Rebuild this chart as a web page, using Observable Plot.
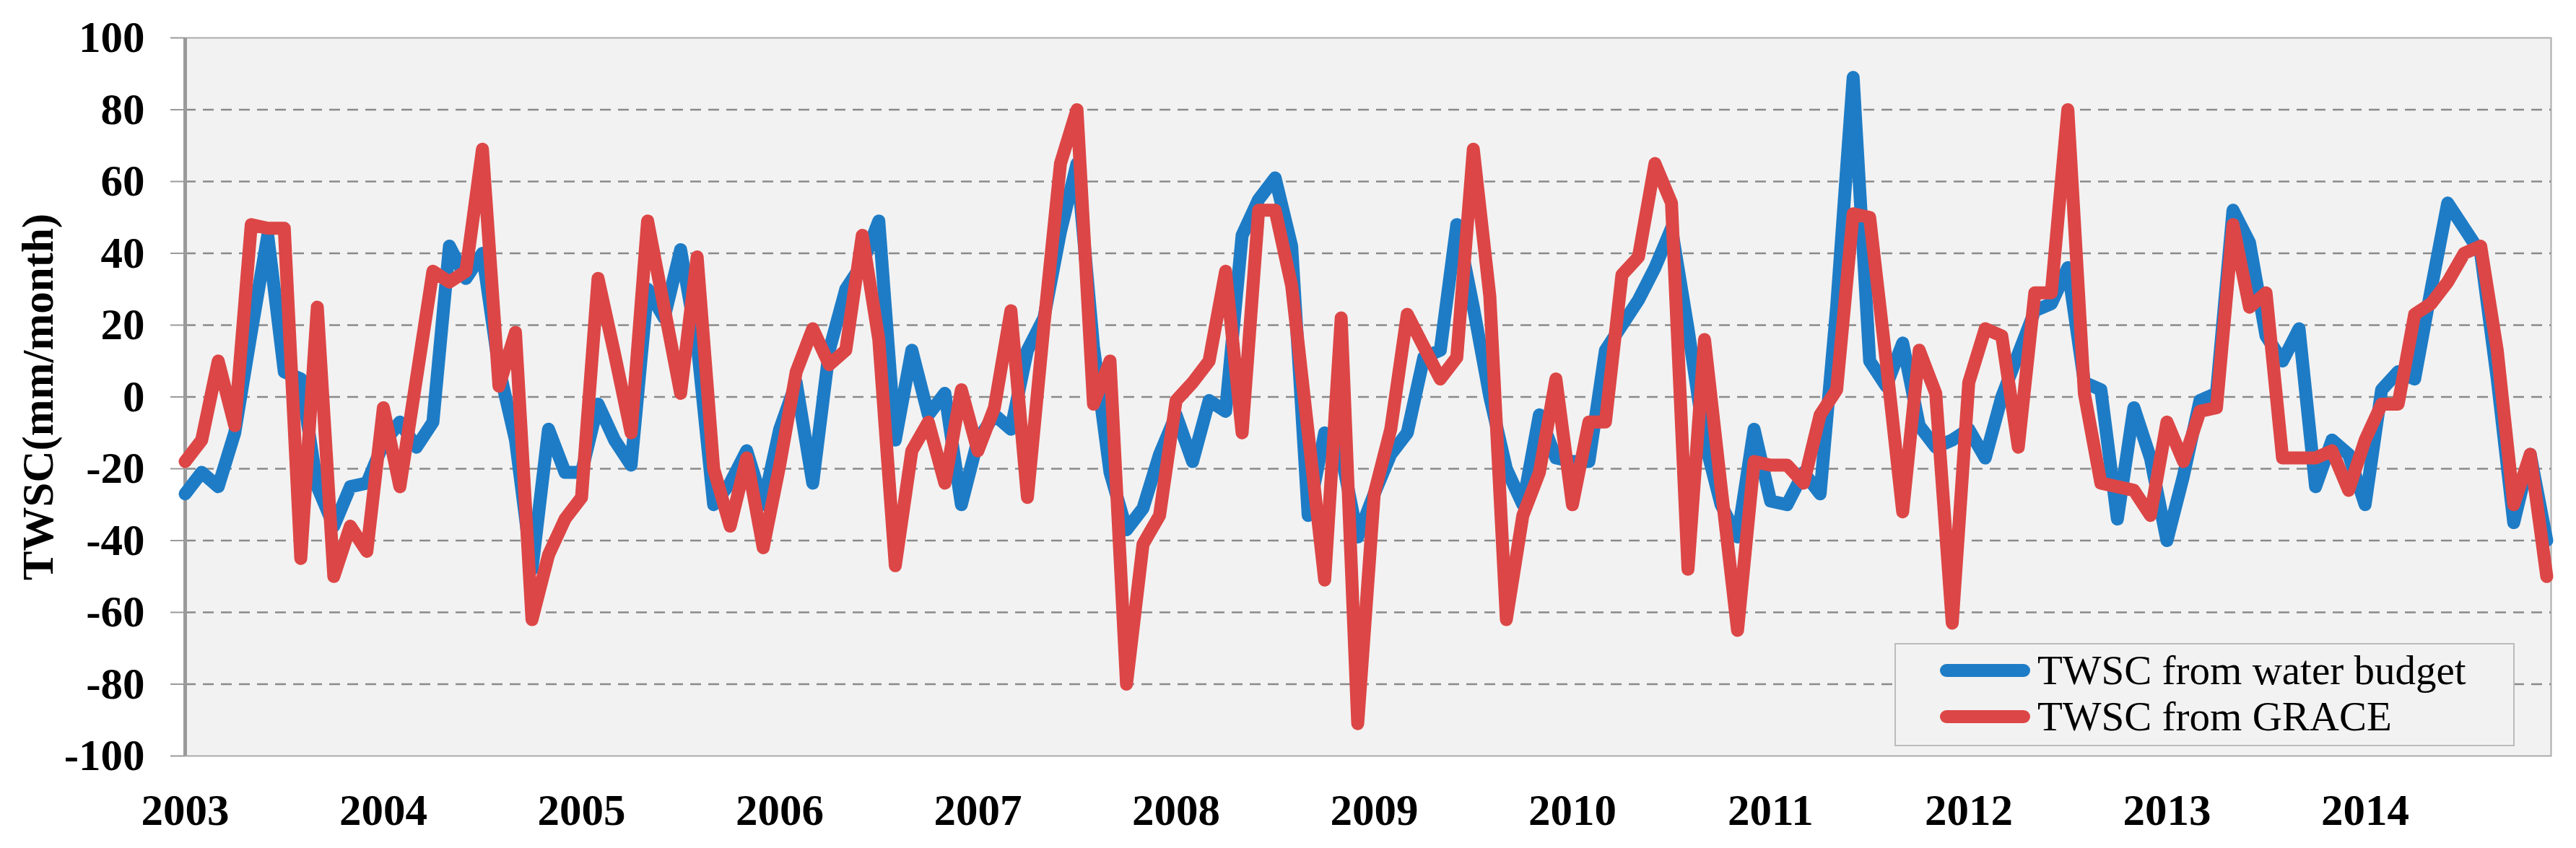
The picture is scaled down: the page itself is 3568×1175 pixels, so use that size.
<!DOCTYPE html>
<html>
<head>
<meta charset="utf-8">
<script src="https://cdn.jsdelivr.net/npm/d3@7"></script>
<script src="https://cdn.jsdelivr.net/npm/@observablehq/plot@0.6"></script>
<style>
  html, body { margin: 0; padding: 0; background: #ffffff; overflow: hidden; }
  #chart { position: relative; width: 3568px; height: 1175px; }
</style>
</head>
<body>
<div id="chart"></div>
<script>
// ---- data (monthly, Jan 2003 – Dec 2014) ----
const yearLabels = ["2003","2004","2005","2006","2007","2008","2009","2010","2011","2012","2013","2014"];
const yTicks = [-100, -80, -60, -40, -20, 0, 20, 40, 60, 80, 100];
const seriesNames = ["TWSC from water budget", "TWSC from GRACE"];
const seriesColors = ["#1e7cc6", "#dd4646"];
const yTitle = "TWSC(mm/month)";

// TWSC from water budget (blue)
const water = [
  -27, -21, -25, -10, 18, 45, 7, 5, -25, -36, -25, -24,   // 2003
  -13, -7, -14, -7, 42, 33, 40, 8, -12, -48, -9, -21,     // 2004
  -21, -2, -12, -19, 30, 22, 41, 15, -30, -24, -15, -30,  // 2005
  -9, 4, -24, 13, 30, 37, 49, -12, 13, -5, 1, -30,        // 2006
  -12, -5, -9, 13, 22, 46, 65, 14, -21, -37, -31, -16,    // 2007
  -5, -18, -1, -4, 45, 55, 61, 42, -33, -10, -16, -39,    // 2008
  -27, -16, -10, 11, 13, 48, 25, 0, -20, -30, -5, -17,    // 2009
  -18, -18, 13, 20, 27, 36, 47, 19, -12, -30, -39, -9,    // 2010
  -29, -30, -21, -27, 25, 89, 10, 3, 15, -8, -14, -12,    // 2011
  -9, -17, 0, 12, 24, 26, 36, 4, 2, -34, -3, -17,         // 2012
  -40, -22, -1, 1, 52, 43, 17, 10, 19, -25, -12, -16,     // 2013
  -30, 2, 7, 5, 30, 54, 47, 40, 5, -35, -16, -40          // 2014
];

// TWSC from GRACE (red)
const grace = [
  -18, -12, 10, -8, 48, 47, 47, -45, 25, -50, -36, -43,   // 2003
  -3, -25, 5, 35, 32, 35, 69, 3, 18, -62, -44, -34,       // 2004
  -28, 33, 12, -10, 49, 25, 1, 39, -20, -36, -17, -42,    // 2005
  -19, 7, 19, 9, 13, 45, 16, -47, -15, -7, -24, 2,        // 2006
  -15, -3, 24, -28, 20, 65, 80, -2, 10, -80, -41, -33,    // 2007
  -1, 4, 10, 35, -10, 52, 52, 31, -10, -51, 22, -91,      // 2008
  -27, -9, 23, 14, 5, 11, 69, 28, -62, -33, -21, 5,       // 2009
  -30, -7, -7, 34, 39, 65, 54, -48, 16, -25, -65, -18,    // 2010
  -19, -19, -24, -5, 2, 51, 50, 10, -32, 13, 1, -63,      // 2011
  4, 19, 17, -14, 29, 29, 80, 1, -24, -25, -26, -33,      // 2012
  -7, -18, -4, -3, 48, 25, 29, -17, -17, -17, -15, -26,   // 2013
  -12, -2, -2, 23, 26, 32, 40, 42, 13, -30, -16, -50      // 2014
];

// ---- table for the library ----
const rows = water.map((v, i) => ({ month: i, water: v, grace: grace[i] }));
const yearTicks = yearLabels.map((_, j) => j * 12);

const W = 3568, H = 1175;
const fontFam = "'Liberation Serif', 'Times New Roman', serif";

const plot = Plot.plot({
  width: W,
  height: H,
  marginLeft: 256,
  marginRight: 35,
  marginTop: 52,
  marginBottom: 128,
  style: {
    background: "#ffffff",
    fontFamily: fontFam,
    fontSize: "61px",
    fontWeight: "bold",
    color: "#000000",
    overflow: "visible"
  },
  x: { domain: [0, rows.length - 1], insetRight: 6 },
  y: { domain: [yTicks[0], yTicks[yTicks.length - 1]] },
  marks: [
    Plot.frame({ fill: "#f2f2f2", stroke: "#ababab", strokeWidth: 2 }),
    Plot.ruleY(yTicks.filter(d => d > yTicks[0] && d < yTicks[yTicks.length - 1]), {
      stroke: "#8a8a8a", strokeWidth: 2.5, strokeDasharray: "15,10"
    }),
    Plot.axisY({
      ticks: yTicks, tickSize: 20, tickPadding: 36,
      tickFormat: d => String(d), stroke: "#9a9a9a", strokeWidth: 2,
      fill: "#000000", label: null
    }),
    Plot.axisX({
      ticks: yearTicks, tickSize: 0, tickPadding: 52,
      tickFormat: i => yearLabels[i / 12], fill: "#000000", label: null
    }),
    Plot.ruleX([0], { stroke: "#9a9a9a", strokeWidth: 5 }),
    Plot.lineY(rows, {
      x: "month", y: "water", stroke: seriesColors[0], strokeWidth: 18,
      strokeLinejoin: "round", strokeLinecap: "round"
    }),
    Plot.lineY(rows, {
      x: "month", y: "grace", stroke: seriesColors[1], strokeWidth: 18,
      strokeLinejoin: "round", strokeLinecap: "round"
    })
  ]
});

document.getElementById("chart").appendChild(plot);

// ---- y-axis title ----
const svg = d3.select(plot);
svg.append("text")
  .attr("transform", "translate(73,550) rotate(-90)")
  .attr("text-anchor", "middle")
  .attr("font-family", fontFam)
  .attr("font-size", 61)
  .attr("font-weight", "bold")
  .attr("fill", "#000")
  .text(yTitle);

// ---- legend (inside plot, lower right) ----
const lg = svg.append("g").attr("text-anchor", "start");
lg.append("rect")
  .attr("x", 2625).attr("y", 892)
  .attr("width", 857).attr("height", 141)
  .attr("fill", "#f2f2f2").attr("stroke", "#bcbcbc").attr("stroke-width", 2);
const legendRows = [
  { name: seriesNames[0], color: seriesColors[0], cy: 929 },
  { name: seriesNames[1], color: seriesColors[1], cy: 993 }
];
legendRows.forEach(r => {
  lg.append("line")
    .attr("x1", 2696).attr("x2", 2803)
    .attr("y1", r.cy).attr("y2", r.cy)
    .attr("stroke", r.color).attr("stroke-width", 18)
    .attr("stroke-linecap", "round");
  lg.append("text")
    .attr("x", 2822).attr("y", r.cy + 19)
    .attr("text-anchor", "start")
    .attr("font-family", fontFam)
    .attr("font-size", 57)
    .attr("font-weight", "normal")
    .attr("fill", "#000")
    .text(r.name);
});
</script>
</body>
</html>
